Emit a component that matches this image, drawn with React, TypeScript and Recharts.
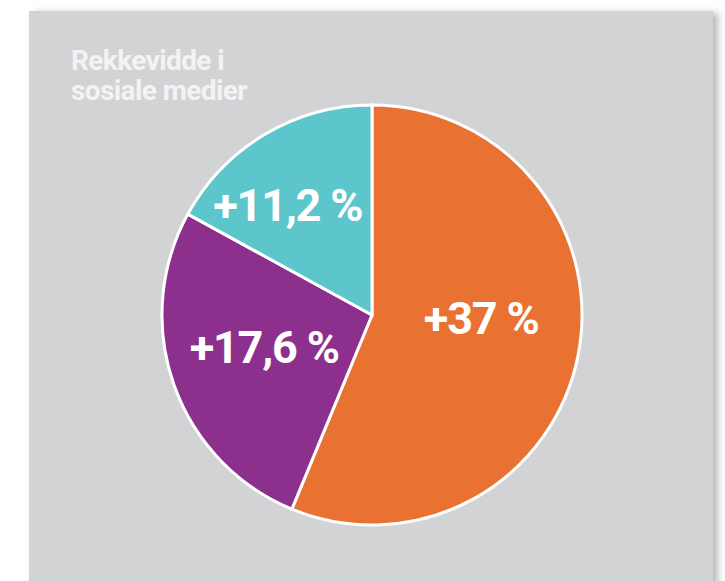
import React from "react"
import { PieChart, Pie, Cell } from "recharts"

// andeler av økning i rekkevidde
const names = ["Facebook", "Instagram", "Andre"]
const values = [37, 17.6, 11.2]
const labels = ["+37 %", "+17,6 %", "+11,2 %"]
const colors = ["#e97132", "#8c2f8d", "#5cc6cc"]

const titleLines = ["Rekkevidde i", "sosiale medier"]

// label plassering: radius-faktor og vinkel-justering (grader) per skive
const labelRadius = [0.52, 0.535, 0.66]
const labelAngleShift = [9.6, -3, 6.8]

const data = names.map((n, i) => ({ name: n, value: values[i] }))

const RAD = Math.PI / 180

function renderLabel(props: any) {
  const { cx, cy, midAngle, outerRadius, index } = props
  const a = (midAngle + labelAngleShift[index]) * RAD
  const r = outerRadius * labelRadius[index]
  const x = cx + r * Math.cos(a)
  const y = cy - r * Math.sin(a)
  const fs = 45
  return (
    <text
      x={x}
      y={y + fs * 0.355}
      fill="#ffffff"
      textAnchor="middle"
      fontSize={fs}
      fontWeight={700}
      fontFamily="Roboto, 'DejaVu Sans', sans-serif"
      letterSpacing={-1.2}
    >
      {labels[index]}
    </text>
  )
}

export default function App() {
  return (
    <div
      style={{
        position: "absolute",
        left: 0,
        top: 0,
        width: 725,
        height: 581,
        overflow: "hidden",
        background: "#ffffff",
      }}
    >
      <div
        style={{
          position: "absolute",
          left: 29,
          top: 11,
          width: 684,
          height: 600,
          background: "#d2d3d5",
          boxShadow: "5px 2px 7px rgba(0,0,0,0.28)",
        }}
      />
      <div
        style={{
          position: "absolute",
          left: 71,
          top: 46,
          fontFamily: "Roboto, sans-serif",
          fontWeight: 700,
          fontSize: 28,
          lineHeight: "30px",
          color: "#f3f3f4",
          letterSpacing: -0.6,
        }}
      >
        {titleLines.map((t) => (
          <div key={t}>{t}</div>
        ))}
      </div>
      <div style={{ position: "absolute", left: 0, top: 0 }}>
        <PieChart width={725} height={581} margin={{ top: 0, right: 0, bottom: 0, left: 0 }}>
          <Pie
            data={data}
            dataKey="value"
            nameKey="name"
            cx={372}
            cy={315}
            outerRadius={210}
            startAngle={90}
            endAngle={-270}
            stroke="#ffffff"
            strokeWidth={3}
            label={renderLabel}
            labelLine={false}
            isAnimationActive={false}
          >
            {data.map((d, i) => (
              <Cell key={d.name} fill={colors[i]} />
            ))}
          </Pie>
        </PieChart>
      </div>
    </div>
  )
}
